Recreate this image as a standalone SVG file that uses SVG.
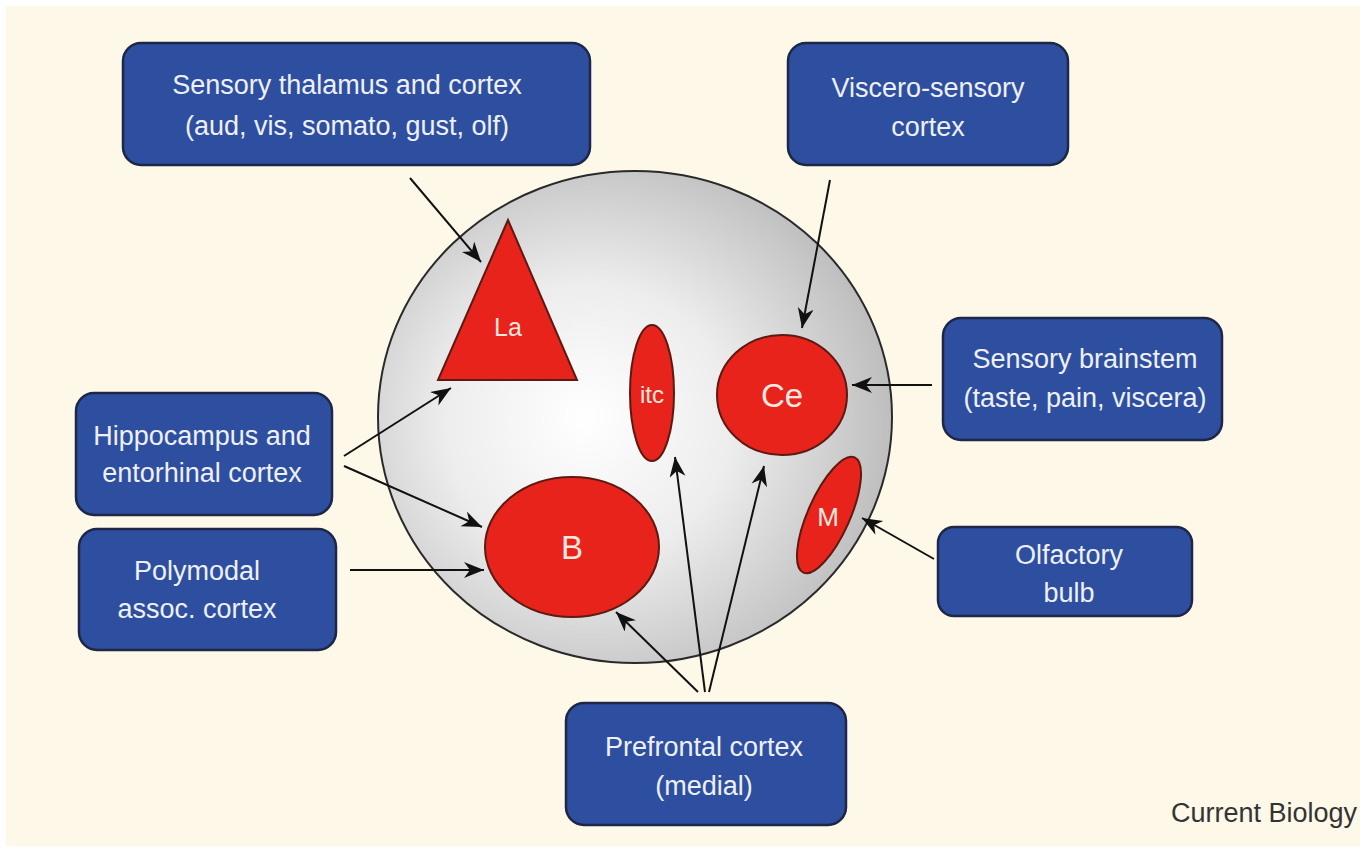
<svg xmlns="http://www.w3.org/2000/svg" width="1360" height="850" viewBox="0 0 1360 850">
<defs>
<radialGradient id="sphere" cx="0.42" cy="0.52" r="0.62" fx="0.4" fy="0.5">
<stop offset="0" stop-color="#ffffff"/>
<stop offset="0.45" stop-color="#ededed"/>
<stop offset="1" stop-color="#b8b8b8"/>
</radialGradient>
<marker id="ah" markerUnits="userSpaceOnUse" markerWidth="24" markerHeight="18" refX="20" refY="8" orient="auto">
<path d="M0,0 L20,8 L0,16 L6,8 z" fill="#111"/>
</marker>
<style>
.box{fill:#2e4f9f;stroke:#1e2747;stroke-width:2.5}
.bt{font-family:"Liberation Sans",Arial,sans-serif;font-size:27px;fill:#eef0f8;text-anchor:middle}
.nuc{fill:#e8231b;stroke:#5c1a12;stroke-width:2}
.nt{font-family:"Liberation Sans",Arial,sans-serif;fill:#ffe8e0;text-anchor:middle}
.ar{stroke:#111;stroke-width:2;fill:none;marker-end:url(#ah)}
</style>
</defs>
<rect x="0" y="0" width="1360" height="850" fill="#ffffff"/>
<rect x="6" y="6" width="1354" height="840" fill="#fdf8e8"/>

<g id="amygdala">
<ellipse cx="635" cy="417" rx="257" ry="246" fill="url(#sphere)" stroke="#2a2a2a" stroke-width="2"/>
</g>

<g id="La">
<polygon class="nuc" points="508,220 438,380 577,380"/>
<text class="nt" x="508" y="336" font-size="25">La</text>
</g>
<g id="itc">
<ellipse class="nuc" cx="652" cy="393" rx="22" ry="68"/>
<text class="nt" x="652" y="403" font-size="24">itc</text>
</g>
<g id="Ce">
<ellipse class="nuc" cx="782" cy="395" rx="65" ry="60"/>
<text class="nt" x="782" y="407" font-size="33">Ce</text>
</g>
<g id="B">
<ellipse class="nuc" cx="572" cy="547" rx="87" ry="70"/>
<text class="nt" x="572" y="559" font-size="33">B</text>
</g>
<g id="M">
<ellipse class="nuc" cx="829" cy="515" rx="21" ry="63" transform="rotate(24 829 515)"/>
<text class="nt" x="828" y="526" font-size="26">M</text>
</g>

<g id="n-sensory-thalamus">
<rect class="box" x="123" y="43" width="467" height="122" rx="18"/>
<text class="bt" x="347" y="94">Sensory thalamus and cortex</text>
<text class="bt" x="347" y="135">(aud, vis, somato, gust, olf)</text>
</g>
<g id="n-viscero">
<rect class="box" x="788" y="43" width="280" height="122" rx="18"/>
<text class="bt" x="928" y="97">Viscero-sensory</text>
<text class="bt" x="928" y="136">cortex</text>
</g>
<g id="n-brainstem">
<rect class="box" x="943" y="318" width="279" height="122" rx="18"/>
<text class="bt" x="1085" y="368">Sensory brainstem</text>
<text class="bt" x="1085" y="407">(taste, pain, viscera)</text>
</g>
<g id="n-hippocampus">
<rect class="box" x="76" y="393" width="256" height="122" rx="18"/>
<text class="bt" x="202" y="445">Hippocampus and</text>
<text class="bt" x="202" y="482">entorhinal cortex</text>
</g>
<g id="n-polymodal">
<rect class="box" x="79" y="529" width="257" height="121" rx="18"/>
<text class="bt" x="197" y="580">Polymodal</text>
<text class="bt" x="197" y="618">assoc. cortex</text>
</g>
<g id="n-olfactory">
<rect class="box" x="938" y="527" width="254" height="89" rx="16"/>
<text class="bt" x="1069" y="564">Olfactory</text>
<text class="bt" x="1069" y="602">bulb</text>
</g>
<g id="n-prefrontal">
<rect class="box" x="566" y="703" width="280" height="122" rx="18"/>
<text class="bt" x="704" y="756">Prefrontal cortex</text>
<text class="bt" x="704" y="795">(medial)</text>
</g>

<g id="connectors">
<line class="ar" x1="410" y1="178" x2="481" y2="262"/>
<line class="ar" x1="830" y1="180" x2="802" y2="328"/>
<line class="ar" x1="932" y1="385" x2="852" y2="385"/>
<line class="ar" x1="344" y1="456" x2="451" y2="388"/>
<line class="ar" x1="344" y1="466" x2="482" y2="527"/>
<line class="ar" x1="350" y1="570" x2="484" y2="570"/>
<line class="ar" x1="934" y1="559" x2="862" y2="518"/>
<line class="ar" x1="698" y1="692" x2="616" y2="612"/>
<line class="ar" x1="705" y1="692" x2="675" y2="457"/>
<line class="ar" x1="709" y1="692" x2="764" y2="466"/>
</g>

<text x="1357" y="822" font-family="'Liberation Sans',Arial,sans-serif" font-size="27" fill="#333333" text-anchor="end">Current Biology</text>
</svg>
